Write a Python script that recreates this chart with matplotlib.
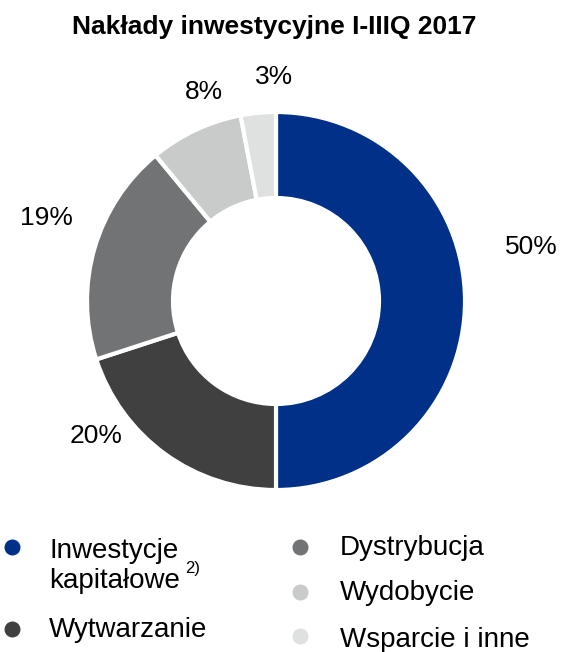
import numpy as np
import matplotlib
matplotlib.use('Agg')
import matplotlib.pyplot as plt
from matplotlib.lines import Line2D

plt.rcParams['font.family'] = ['Liberation Sans', 'DejaVu Sans']

title = 'Nakłady inwestycyjne I-IIIQ 2017'
categories = ['Inwestycje\nkapitałowe', 'Wytwarzanie', 'Dystrybucja', 'Wydobycie', 'Wsparcie i inne']
shares = [50, 20, 19, 8, 3]
colors = ['#003087', '#404040', '#717375', '#c9caca', '#dfe0e0']

# polar positions of the percent labels (angle in deg, radius)
label_pos = [(12, 1.38), (217, 1.19), (160, 1.29), (109, 1.17), (90.5, 1.185)]

W, H = 563, 652
fig = plt.figure(figsize=(W / 100, H / 100), dpi=100)

cx, cy, r = 276, 301, 189
ax = fig.add_axes([(cx - r) / W, (H - cy - r) / H, 2 * r / W, 2 * r / H])
ax.pie(shares, colors=colors, startangle=90, counterclock=False, radius=1,
       wedgeprops=dict(width=0.455, edgecolor='white', linewidth=3))
ax.set_xlim(-1, 1)
ax.set_ylim(-1, 1)
ax.set_aspect('equal')
ax.axis('off')

for val, (ang, rad) in zip(shares, label_pos):
    a = np.deg2rad(ang)
    ax.text(rad * np.cos(a), rad * np.sin(a), f'{val}%', fontsize=19,
            ha='center', va='center', clip_on=False)

fig.text(274.5 / W, 1 - 27 / H, title, fontsize=19, fontweight='bold',
         ha='center', va='center')

# legend, laid out by hand
marker_xy = [(12, 547), (12, 629), (300, 547), (300, 592), (300, 636)]
text_xy = [(49, 566), (49, 630), (340, 548), (340, 593), (340, 640)]
for i, cat in enumerate(categories):
    mx, my = marker_xy[i]
    fig.add_artist(Line2D([mx / W], [1 - my / H], marker='o', markersize=10.5,
                          color=colors[i], linestyle='none',
                          transform=fig.transFigure))
    tx, ty = text_xy[i]
    t = fig.text(tx / W, 1 - ty / H, cat, fontsize=20, ha='left', va='center',
                 linespacing=1.25)
    if i == 0:
        fig.text(0, 0, '').set_visible(False)
        ax.annotate('2)', xy=(1, 0.5), xycoords=t, xytext=(4, -2),
                    textcoords='offset points', fontsize=12,
                    ha='left', va='center', annotation_clip=False)

fig.savefig('out.png', dpi=100)
